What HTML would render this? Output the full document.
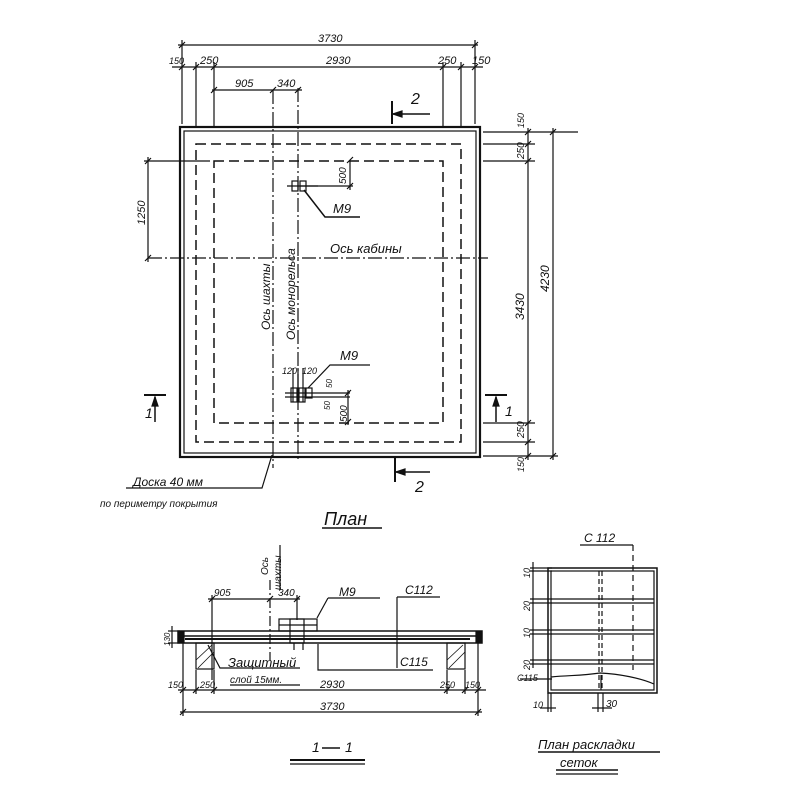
<!DOCTYPE html>
<html><head><meta charset="utf-8"><style>
html,body{margin:0;padding:0;background:#fff;}
svg{display:block}
text{font-family:"Liberation Sans",sans-serif;font-style:italic;fill:#111;}
</style></head><body>
<svg width="800" height="800" viewBox="0 0 800 800" xmlns="http://www.w3.org/2000/svg">
<g stroke="#111" fill="none" stroke-width="1.2">
<line x1="178" y1="45" x2="478" y2="45"/>
<line x1="172" y1="67" x2="483" y2="67"/>
<line x1="212" y1="90" x2="302" y2="90"/>
<line x1="182" y1="40" x2="182" y2="124"/>
<line x1="475" y1="40" x2="475" y2="124"/>
<line x1="196" y1="62" x2="196" y2="126"/>
<line x1="214" y1="62" x2="214" y2="126"/>
<line x1="443" y1="62" x2="443" y2="126"/>
<line x1="461" y1="62" x2="461" y2="126"/>
<path d="M179,48 L185,42 M472,48 L478,42 M179,70 L185,64 M193,70 L199,64 M211,70 L217,64 M440,70 L446,64 M458,70 L464,64 M472,70 L478,64 M211,93 L217,87 M270,93 L276,87 M295,93 L301,87"/>
<rect x="180" y="127" width="300" height="330" stroke-width="2.2"/>
<rect x="184" y="131" width="292" height="322"/>
<rect x="196" y="144" width="265" height="298" stroke-dasharray="10,5" stroke-width="1.5"/>
<rect x="214" y="161" width="229" height="262" stroke-dasharray="10,5" stroke-width="1.5"/>
<line x1="273" y1="90" x2="273" y2="468" stroke-dasharray="14,3,2,3"/>
<line x1="298" y1="88" x2="298" y2="460" stroke-dasharray="14,3,2,3"/>
<line x1="148" y1="258" x2="488" y2="258" stroke-dasharray="14,3,2,3"/>
<line x1="148" y1="157" x2="148" y2="262"/>
<line x1="144" y1="161" x2="210" y2="161"/>
<path d="M145,164 L151,158 M145,261 L151,255"/>
<line x1="528" y1="128" x2="528" y2="460"/>
<line x1="553" y1="128" x2="553" y2="460"/>
<line x1="483" y1="132" x2="578" y2="132"/>
<line x1="483" y1="144" x2="535" y2="144"/>
<line x1="483" y1="161" x2="535" y2="161"/>
<line x1="483" y1="423" x2="535" y2="423"/>
<line x1="483" y1="442" x2="535" y2="442"/>
<line x1="483" y1="456" x2="558" y2="456"/>
<path d="M525,135 L531,129 M525,147 L531,141 M525,164 L531,158 M525,426 L531,420 M525,445 L531,439 M525,459 L531,453 M550,135 L556,129 M550,459 L556,453"/>
<line x1="392" y1="101" x2="392" y2="124" stroke-width="2"/>
<line x1="392" y1="114" x2="430" y2="114" stroke-width="1.5"/>
<path d="M393,114 L402,111 L402,117 Z" fill="#111"/>
<line x1="395" y1="458" x2="395" y2="482" stroke-width="2"/>
<line x1="395" y1="472" x2="430" y2="472" stroke-width="1.5"/>
<path d="M396,472 L405,469 L405,475 Z" fill="#111"/>
<line x1="144" y1="395" x2="166" y2="395" stroke-width="2"/>
<line x1="155" y1="397" x2="155" y2="422" stroke-width="1.5"/>
<path d="M155,397 L152,406 L158,406Z" fill="#111"/>
<line x1="485" y1="395" x2="507" y2="395" stroke-width="2"/>
<line x1="496" y1="397" x2="496" y2="422" stroke-width="1.5"/>
<path d="M496,397 L493,406 L499,406Z" fill="#111"/>
<rect x="292" y="181" width="6" height="10"/>
<rect x="300" y="181" width="6" height="10"/>
<line x1="287" y1="186" x2="318" y2="186"/>
<line x1="300" y1="186" x2="353" y2="186"/>
<line x1="350" y1="160" x2="350" y2="190"/>
<path d="M347,163 L353,157 M347,189 L353,183"/>
<polyline points="304,190 325,217 360,217" stroke-width="1.5"/>
<rect x="291" y="388" width="6" height="14"/>
<rect x="299" y="388" width="6" height="14"/>
<rect x="306" y="388" width="6" height="10"/>
<line x1="285" y1="393" x2="350" y2="393"/>
<line x1="285" y1="397" x2="350" y2="397"/>
<line x1="348" y1="390" x2="348" y2="425"/>
<path d="M345,396 L351,390 M345,425 L351,419"/>
<line x1="293" y1="368" x2="293" y2="402"/>
<line x1="298" y1="368" x2="298" y2="402"/>
<line x1="303" y1="368" x2="303" y2="402"/>
<polyline points="308,388 330,365 370,365"/>
<polyline points="126,488 262,488 272,455"/>
<line x1="322" y1="528" x2="382" y2="528" stroke-width="1.5"/>

<rect x="178" y="631" width="304" height="12" stroke-width="1.5"/>
<line x1="182" y1="636" x2="478" y2="636" stroke-width="1.5"/>
<line x1="185" y1="639" x2="470" y2="639" stroke-width="2"/>
<rect x="179" y="632" width="5" height="10" fill="#111"/>
<rect x="476" y="632" width="5" height="10" fill="#111"/>
<rect x="196" y="643" width="18" height="26"/>
<rect x="447" y="643" width="18" height="26"/>
<path d="M196,660 L212,645 M198,668 L214,652 M447,660 L463,645 M449,668 L465,652" stroke-width="0.8"/>
<rect x="279" y="619" width="38" height="12"/>
<line x1="279" y1="625" x2="317" y2="625"/>
<rect x="290" y="619" width="14" height="24"/>
<line x1="294" y1="643" x2="294" y2="650"/><line x1="303" y1="643" x2="303" y2="650"/>
<line x1="317" y1="618" x2="328" y2="598"/>
<line x1="328" y1="598" x2="380" y2="598"/>
<line x1="270" y1="580" x2="270" y2="660" stroke-dasharray="10,3,2,3"/>
<line x1="280" y1="545" x2="280" y2="590"/>
<line x1="208" y1="599" x2="300" y2="599"/>
<line x1="212" y1="595" x2="212" y2="680"/>
<line x1="297" y1="595" x2="297" y2="620"/>
<path d="M209,602 L215,596 M267,602 L273,596 M294,602 L300,596"/>
<line x1="397" y1="597" x2="440" y2="597"/>
<line x1="397" y1="597" x2="397" y2="668"/>
<polyline points="318,644 318,670 433,670"/>
<polyline points="208,645 220,668 300,668"/>
<line x1="230" y1="685" x2="300" y2="685"/>
<line x1="168" y1="631" x2="180" y2="631"/><line x1="168" y1="643" x2="180" y2="643"/>
<line x1="172" y1="626" x2="172" y2="648"/>
<line x1="178" y1="690" x2="486" y2="690"/>
<line x1="180" y1="712" x2="482" y2="712"/>
<line x1="183" y1="643" x2="183" y2="716"/>
<line x1="478" y1="643" x2="478" y2="716"/>
<line x1="196" y1="670" x2="196" y2="694"/>
<line x1="214" y1="670" x2="214" y2="694"/>
<line x1="447" y1="670" x2="447" y2="694"/>
<line x1="465" y1="670" x2="465" y2="694"/>
<path d="M180,693 L186,687 M193,693 L199,687 M211,693 L217,687 M444,693 L450,687 M462,693 L468,687 M475,693 L481,687 M180,715 L186,709 M475,715 L481,709"/>
<line x1="290" y1="760" x2="365" y2="760" stroke-width="2"/>
<line x1="290" y1="764" x2="365" y2="764"/>
<line x1="322" y1="748" x2="340" y2="748" stroke-width="1.5"/>

<rect x="548" y="568" width="109" height="125" stroke-width="1.5"/>
<rect x="551" y="571" width="103" height="119"/>
<path d="M551,599 H654 M551,603 H654 M551,630 H654 M551,634 H654 M551,660 H654 M551,664 H654"/>
<path d="M551,677 C570,675 580,676 600,673 C620,674 640,678 654,684"/>
<line x1="599" y1="571" x2="599" y2="690" stroke-dasharray="5,3"/>
<line x1="602" y1="571" x2="602" y2="690" stroke-dasharray="5,3"/>
<line x1="601" y1="675" x2="601" y2="690"/>
<line x1="580" y1="545" x2="633" y2="545"/>
<line x1="633" y1="545" x2="633" y2="670" stroke-dasharray="6,4"/>
<path d="M530,568 H552 M530,571 H552 M530,599 H552 M530,603 H552 M530,630 H552 M530,634 H552 M530,660 H552 M530,664 H552 M520,679 H552"/>
<line x1="533" y1="562" x2="533" y2="668"/>
<line x1="548" y1="693" x2="548" y2="712"/><line x1="551" y1="693" x2="551" y2="712"/>
<line x1="598" y1="693" x2="598" y2="712"/><line x1="603" y1="693" x2="603" y2="712"/>
<line x1="540" y1="708" x2="556" y2="708"/><line x1="592" y1="708" x2="612" y2="708"/>
<line x1="538" y1="752" x2="660" y2="752" stroke-width="1.5"/>
<line x1="556" y1="770" x2="618" y2="770" stroke-width="1.5"/>
<line x1="556" y1="774" x2="618" y2="774"/>
</g>

<g font-size="11">
<text x="318" y="42">3730</text>
<text x="169" y="64" font-size="9">150</text>
<text x="200" y="64">250</text>
<text x="326" y="64">2930</text>
<text x="438" y="64">250</text>
<text x="472" y="64">150</text>
<text x="235" y="87">905</text>
<text x="277" y="87">340</text>
<text x="411" y="104" font-size="16" font-style="normal">2</text>
<text x="415" y="492" font-size="16" font-style="normal">2</text>
<text x="145" y="418" font-size="14">1</text>
<text x="505" y="416" font-size="14">1</text>
<text x="333" y="213" font-size="13">M9</text>
<text x="340" y="360" font-size="13">M9</text>
<text x="330" y="253" font-size="13">Ось кабины</text>
<text x="282" y="374" font-size="9">120</text>
<text x="302" y="374" font-size="9">120</text>
<text transform="translate(346,184) rotate(-90)" font-size="10">500</text>
<text transform="translate(347,422) rotate(-90)" font-size="10">500</text>
<text transform="translate(330,410) rotate(-90)" font-size="8">50</text>
<text transform="translate(332,388) rotate(-90)" font-size="8">50</text>
<text transform="translate(145,225) rotate(-90)">1250</text>
<text transform="translate(524,159) rotate(-90)" font-size="10">250</text>
<text transform="translate(524,128) rotate(-90)" font-size="9">150</text>
<text transform="translate(524,320) rotate(-90)" font-size="12">3430</text>
<text transform="translate(549,292) rotate(-90)" font-size="12">4230</text>
<text transform="translate(524,438) rotate(-90)" font-size="10">250</text>
<text transform="translate(524,472) rotate(-90)" font-size="9">150</text>
<text transform="translate(270,330) rotate(-90)" font-size="12">Ось шахты</text>
<text transform="translate(295,340) rotate(-90)" font-size="12">Ось монорельса</text>
<text x="133" y="486" font-size="12">Доска 40 мм</text>
<text x="100" y="507" font-size="10">по периметру покрытия</text>
<text x="324" y="525" font-size="18">План</text>

<text transform="translate(268,575) rotate(-90)" font-size="10">Ось</text>
<text transform="translate(281,590) rotate(-90)" font-size="10">шахты</text>
<text x="214" y="596" font-size="10">905</text>
<text x="278" y="596" font-size="10">340</text>
<text x="339" y="596" font-size="12">M9</text>
<text x="405" y="594" font-size="12">C112</text>
<text x="400" y="666" font-size="12">C115</text>
<text x="228" y="667" font-size="13">Защитный</text>
<text x="230" y="683" font-size="10">слой 15мм.</text>
<text transform="translate(170,646) rotate(-90)" font-size="8">130</text>
<text x="168" y="688" font-size="9">150</text>
<text x="200" y="688" font-size="9">250</text>
<text x="320" y="688" font-size="11">2930</text>
<text x="440" y="688" font-size="9">250</text>
<text x="465" y="688" font-size="9">150</text>
<text x="320" y="710" font-size="11">3730</text>
<text x="312" y="752" font-size="14">1</text>
<text x="345" y="752" font-size="14">1</text>

<text x="584" y="542" font-size="12">C 112</text>
<text transform="translate(530,578) rotate(-90)" font-size="9">10</text>
<text transform="translate(530,611) rotate(-90)" font-size="9">20</text>
<text transform="translate(530,638) rotate(-90)" font-size="9">10</text>
<text transform="translate(530,670) rotate(-90)" font-size="9">20</text>
<text x="517" y="681" font-size="9">C115</text>
<text x="533" y="708" font-size="9">10</text>
<text x="606" y="707" font-size="10">30</text>
<text x="538" y="749" font-size="13">План раскладки</text>
<text x="560" y="767" font-size="13">сеток</text>
</g>
</svg>
</body></html>
